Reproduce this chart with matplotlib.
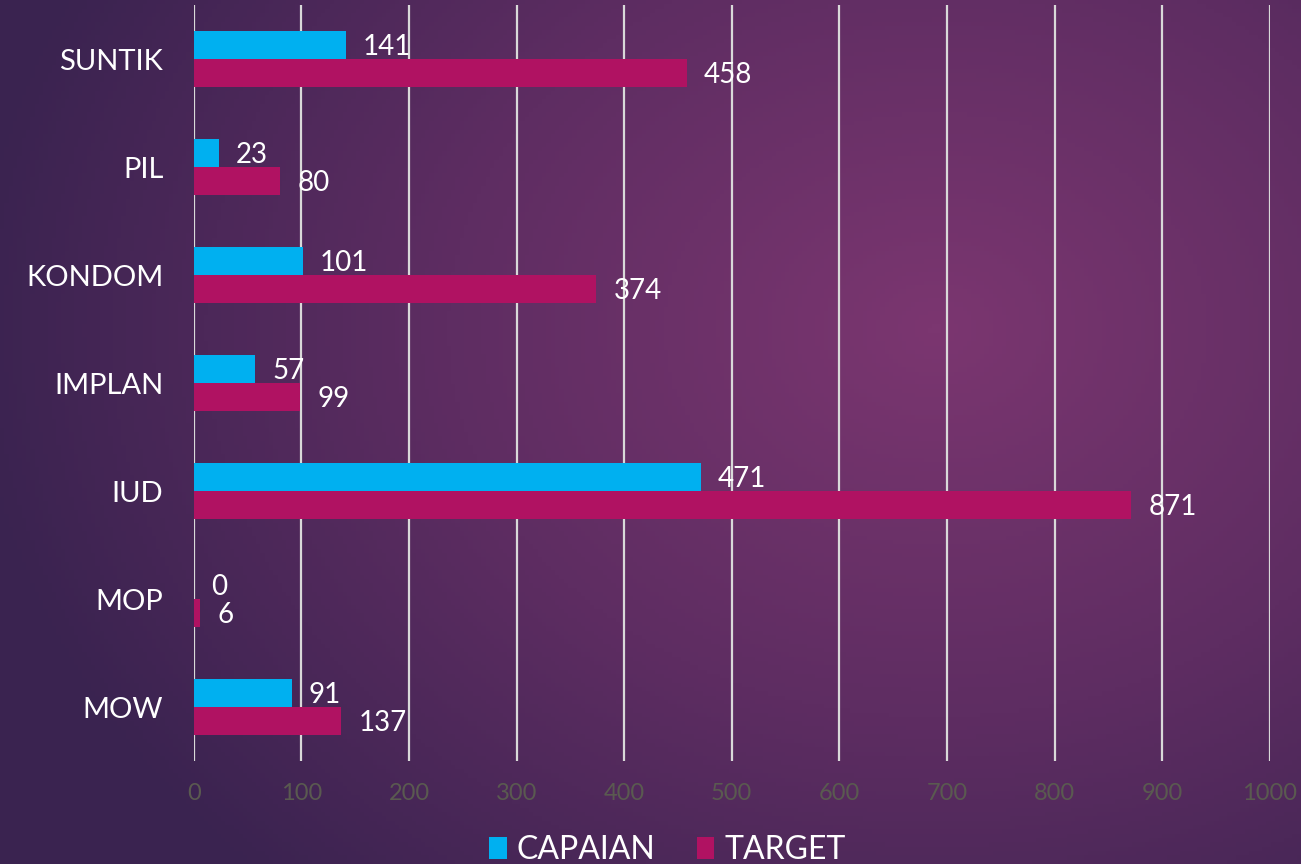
import numpy as np
import matplotlib.pyplot as plt
from matplotlib.colors import LinearSegmentedColormap

# data
categories = ["SUNTIK", "PIL", "KONDOM", "IMPLAN", "IUD", "MOP", "MOW"]
capaian = [141, 23, 101, 57, 471, 0, 91]
target = [458, 80, 374, 99, 871, 6, 137]
xticks = list(range(0, 1001, 100))

CYAN = "#00B0F0"
BERRY = "#B01262"
FONT = ["Lato", "DejaVu Sans"]

fig = plt.figure(figsize=(13.01, 8.64), dpi=100)

# gradient background
bg = fig.add_axes([0, 0, 1, 1], zorder=-10)
bg.axis("off")
yy, xx = np.mgrid[0:1:200j, 0:1:300j]
d = np.sqrt(((xx - 0.72) / 0.75) ** 2 + ((yy - 0.62) / 0.9) ** 2)
cmap = LinearSegmentedColormap.from_list("bg", ["#7b3670", "#5e2d62", "#3a2350"])
bg.imshow(np.clip(d, 0, 1), cmap=cmap, aspect="auto", extent=[0, 1, 0, 1], origin="lower")

ax = fig.add_axes([0.149, 0.119, 0.827, 0.875])
ax.set_facecolor("none")

y = np.arange(len(categories))
h = 0.26
ax.barh(y - h / 2, capaian, height=h, color=CYAN, label="CAPAIAN", zorder=3)
ax.barh(y + h / 2, target, height=h, color=BERRY, label="TARGET", zorder=3)

for i in range(len(categories)):
    ax.text(capaian[i] + 16, y[i] - h / 2 + 0.02, str(capaian[i]), color="white",
            fontsize=20, va="center", ha="left", family=FONT, zorder=4)
    ax.text(target[i] + 16, y[i] + h / 2 + 0.02, str(target[i]), color="white",
            fontsize=20, va="center", ha="left", family=FONT, zorder=4)

ax.set_ylim(len(categories) - 0.5, -0.5)
ax.set_xlim(0, 1000)
ax.set_yticks(y)
ax.set_yticklabels(categories, color="white", fontsize=21, family=FONT)
ax.set_xticks(xticks)
ax.set_xticklabels([str(v) for v in xticks], color="#5a5a50", fontsize=17, family=FONT)
ax.tick_params(length=0)
ax.tick_params(axis="x", pad=16)
ax.tick_params(axis="y", pad=22)
ax.grid(axis="x", color="#d9d9d9", linewidth=1.6, zorder=1)
for s in ax.spines.values():
    s.set_visible(False)

leg = fig.legend(loc="center", bbox_to_anchor=(0.513, 0.016), ncol=2, frameon=False,
                 prop={"family": FONT, "size": 23}, labelcolor="white",
                 handlelength=0.55, handleheight=0.7, handletextpad=0.3, columnspacing=1.3)

fig.savefig("out.png", dpi=100)
